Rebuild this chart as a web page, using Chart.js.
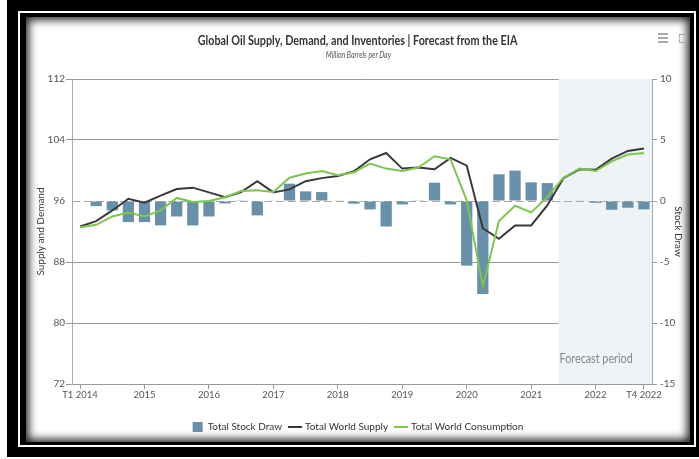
<!DOCTYPE html>
<html>
<head>
<meta charset="utf-8">
<script src="https://cdn.jsdelivr.net/npm/chart.js@4.4.1/dist/chart.umd.min.js"></script>
<style>
    html, body { margin: 0; padding: 0; background: #fff; }
    body { width: 699px; height: 459px; position: relative; overflow: hidden; font-family: Lato, sans-serif; }
    #outer { position: absolute; left: 7px; top: 0; width: 692px; height: 457px; background: #000; }
    #ring { position: absolute; left: 11px; top: 11px; width: 678px; height: 436px; box-sizing: border-box; border: 2px solid #fff; }
    #panel { position: absolute; left: 26px; top: 17px; width: 664px; height: 425px; background: #fff;
             box-shadow: inset 0 0 9px 3px rgba(0,0,0,0.85); }
    #panel canvas { position: absolute; left: 0; top: 0; }
    .title { position: absolute; left: 0; width: 664px; text-align: center; white-space: nowrap; color: #333; }
    .title span { display: inline-block; transform: scaleX(0.77); transform-origin: center; }
    #mainTitle { top: 14px; font-size: 14px; font-weight: bold; }
    #subTitle { top: 32px; font-size: 9px; font-style: italic; color: #555; }
    .menu { position: absolute; left: 632px; top: 16px; width: 10px; }
    .menu div { height: 2px; background: #aaa; margin-bottom: 2px; }
    .full { position: absolute; left: 653px; top: 17px; width: 8px; height: 9px; }
    .full i { position: absolute; width: 3px; height: 3px; border: 0 solid #aaa; }
    .full .a { left: 0; top: 0; border-left-width: 1px; border-top-width: 1px; }
    .full .b { right: 0; top: 0; border-right-width: 1px; border-top-width: 1px; }
    .full .c { left: 0; bottom: 0; border-left-width: 1px; border-bottom-width: 1px; }
    .full .d { right: 0; bottom: 0; border-right-width: 1px; border-bottom-width: 1px; }
</style>
</head>
<body>
<div id="outer"><div id="ring"></div></div>
<div id="panel">
    <canvas id="oilChart" width="664" height="425"></canvas>
    <div class="title" id="mainTitle"><span>Global Oil Supply, Demand, and Inventories | Forecast from the EIA</span></div>
    <div class="title" id="subTitle"><span>Million Barrels per Day</span></div>
    <div class="menu"><div></div><div></div><div></div></div>
    <div class="full"><i class="a"></i><i class="b"></i><i class="c"></i><i class="d"></i></div>
</div>
<script>
// 연도와 분기 라벨
const years = [2014, 2015, 2016, 2017, 2018, 2019, 2020, 2021, 2022];
const quarters = [];
years.forEach(y => { for (let q = 1; q <= 4; q++) quarters.push(`T${q} ${y}`); });

// 재고 증감 (오른쪽 축)
const stockDraw = [
    -0.05, -0.42, -0.77, -1.73,
    -1.73, -2.0, -1.27, -2.0,
    -1.27, -0.2, 0.02, -1.18,
    0.03, 1.42, 0.79, 0.73,
    0.03, -0.22, -0.69, -2.09,
    -0.28, 0.02, 1.5, -0.28,
    -5.3, -7.62, 2.19, 2.49,
    1.53, 1.47, -0.05, 0.05,
    -0.15, -0.72, -0.55, -0.69
];

// 세계 공급량 (왼쪽 축)
const worldSupply = [
    92.66, 93.36, 94.76, 96.3,
    95.78, 96.7, 97.57, 97.75,
    97.13, 96.5, 97.18, 98.6,
    97.13, 97.52, 98.6, 99.0,
    99.28, 99.9, 101.47, 102.3,
    100.25, 100.38, 100.16, 101.65,
    100.64, 92.43, 91.04, 92.79,
    92.79, 95.42, 99.0, 100.16,
    100.1, 101.56, 102.57, 102.88
];

// 세계 소비량 (왼쪽 축)
const worldConsumption = [
    92.57, 92.88, 93.97, 94.5,
    93.97, 94.76, 96.4, 95.87,
    96.0, 96.5, 97.3, 97.4,
    97.18, 99.06, 99.6, 99.93,
    99.37, 99.76, 100.9, 100.25,
    99.93, 100.38, 101.87, 101.47,
    96.08, 84.8, 93.36, 95.38,
    94.5, 96.5, 99.06, 100.25,
    99.93, 101.2, 102.1, 102.3
];

// 예측 구간 시작 (분기 인덱스)
const forecastStart = 29.7;
const forecastLabel = 'Forecast period';

const FONT = 'Lato, sans-serif';

// 예측 구간 배경 + 0 기준 점선
const forecastBand = {
    id: 'forecastBand',
    beforeDatasetsDraw(chart) {
        const { ctx, chartArea, scales } = chart;
        const x0 = scales.x.getPixelForValue(forecastStart);
        ctx.save();
        ctx.fillStyle = '#eef3f6';
        ctx.fillRect(x0, chartArea.top, chartArea.right - x0, chartArea.bottom - chartArea.top);
        // 0 기준선
        const y0 = scales.y1.getPixelForValue(0);
        ctx.strokeStyle = '#aaaaaa';
        ctx.lineWidth = 1;
        ctx.setLineDash([8, 4]);
        ctx.beginPath();
        ctx.moveTo(chartArea.left, Math.round(y0) + 0.5);
        ctx.lineTo(chartArea.right, Math.round(y0) + 0.5);
        ctx.stroke();
        ctx.setLineDash([]);
        // 라벨 (좁게)
        ctx.translate(x0 + 1, chartArea.bottom - 25);
        ctx.scale(0.86, 1);
        ctx.fillStyle = '#888';
        ctx.font = `12.5px ${FONT}`;
        ctx.textBaseline = 'middle';
        ctx.fillText(forecastLabel, 0, 0);
        ctx.restore();
    }
};

const lastIndex = quarters.length - 1;
const isLabeled = i => i === 0 || i === lastIndex || quarters[i].startsWith('T1');

new Chart(document.getElementById('oilChart').getContext('2d'), {
    type: 'bar',
    data: {
        labels: quarters,
        datasets: [
            {
                type: 'bar',
                label: 'Total Stock Draw',
                data: stockDraw,
                yAxisID: 'y1',
                backgroundColor: '#6890a8',
                borderWidth: 0,
                categoryPercentage: 0.7,
                barPercentage: 1.0,
                pointStyle: 'rect',
                order: 3
            },
            {
                type: 'line',
                label: 'Total World Supply',
                data: worldSupply,
                yAxisID: 'y',
                borderColor: '#383838',
                backgroundColor: '#383838',
                borderWidth: 2,
                pointRadius: 0,
                tension: 0,
                pointStyle: 'line',
                order: 2
            },
            {
                type: 'line',
                label: 'Total World Consumption',
                data: worldConsumption,
                yAxisID: 'y',
                borderColor: '#7cc64e',
                backgroundColor: '#7cc64e',
                borderWidth: 2,
                pointRadius: 0,
                tension: 0,
                pointStyle: 'line',
                order: 1
            }
        ]
    },
    options: {
        responsive: false,
        animation: false,
        devicePixelRatio: 1,
        layout: { padding: { left: 0, right: 0, top: 62, bottom: 0 } },
        plugins: {
            legend: {
                position: 'bottom',
                labels: {
                    usePointStyle: true,
                    color: '#333',
                    font: { family: FONT, size: 10 },
                    padding: 8,
                    boxWidth: 12,
                    sort: (a, b) => a.datasetIndex - b.datasetIndex
                }
            },
            tooltip: { enabled: false }
        },
        scales: {
            x: {
                type: 'category',
                offset: true,
                grid: {
                    display: true,
                    drawOnChartArea: false,
                    drawTicks: true,
                    tickLength: 5,
                    offset: false,
                    color: ctx => isLabeled(ctx.index) ? '#999' : 'rgba(0,0,0,0)'
                },
                border: { display: true, color: '#999' },
                ticks: {
                    autoSkip: false,
                    maxRotation: 0,
                    padding: 0,
                    color: '#555',
                    font: { family: FONT, size: 9.5 },
                    callback: (v, i) => {
                        if (i === 0 || i === lastIndex) return quarters[i];
                        return quarters[i].startsWith('T1') ? quarters[i].slice(3) : '';
                    }
                },
                afterFit: s => { s.height = 30; }
            },
            y: {
                position: 'left',
                min: 72,
                max: 112,
                ticks: { stepSize: 8, color: '#555', font: { family: FONT, size: 10 }, padding: 1 },
                grid: {
                    color: ctx => ctx.tick && ctx.tick.value === 96 ? 'rgba(0,0,0,0)' : '#999',
                    tickLength: 6
                },
                border: { display: true, color: '#aaa' },
                title: {
                    display: true,
                    text: 'Supply and Demand',
                    color: '#333',
                    font: { family: FONT, size: 10 },
                    padding: { top: 9, bottom: 0 }
                },
                afterFit: s => { s.width = 46; }
            },
            y1: {
                position: 'right',
                min: -15,
                max: 10,
                ticks: { stepSize: 5, color: '#555', font: { family: FONT, size: 10 }, padding: 3 },
                grid: { drawOnChartArea: false, tickLength: 5, color: '#999' },
                border: { display: true, color: '#aaa' },
                title: {
                    display: true,
                    text: 'Stock Draw',
                    color: '#333',
                    font: { family: FONT, size: 10 },
                    padding: { top: 6, bottom: 0 }
                },
                afterFit: s => { s.width = 38; }
            }
        }
    },
    plugins: [forecastBand]
});
</script>
</body>
</html>
